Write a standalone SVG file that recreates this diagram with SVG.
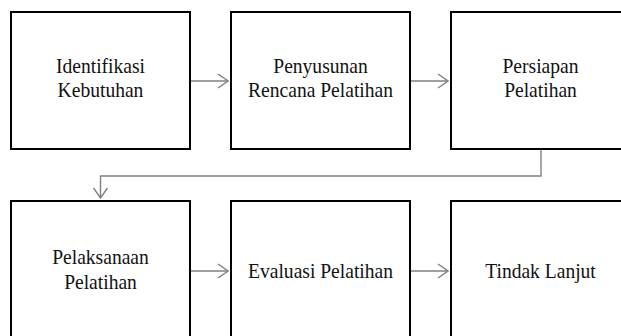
<svg xmlns="http://www.w3.org/2000/svg" width="621" height="336" viewBox="0 0 621 336">
<defs>
<style>
.box{fill:#fff;stroke:#000;stroke-width:2}
.lbl{font-family:"Liberation Serif","Times New Roman",serif;font-size:19px;fill:#111;text-anchor:middle}
.con{fill:none;stroke:#808080;stroke-width:1.4}
</style>
<marker id="arr" viewBox="0 0 12 16" refX="11" refY="8" markerWidth="12" markerHeight="16" markerUnits="userSpaceOnUse" orient="auto">
<path d="M1,1 L11,8 L1,15" fill="none" stroke="#808080" stroke-width="1.4"/>
</marker>
</defs>
<rect width="621" height="336" fill="#fff"/>
<g id="connectors">
<line class="con" x1="191" y1="81" x2="228" y2="81" marker-end="url(#arr)"/>
<line class="con" x1="411" y1="81" x2="448" y2="81" marker-end="url(#arr)"/>
<polyline class="con" points="541,150 541,176 100.5,176 100.5,198" marker-end="url(#arr)"/>
<line class="con" x1="191" y1="271" x2="228" y2="271" marker-end="url(#arr)"/>
<line class="con" x1="411" y1="271" x2="448" y2="271" marker-end="url(#arr)"/>
</g>
<g id="n1">
<rect class="box" x="11" y="12" width="179" height="137"/>
<text class="lbl" transform="translate(100.5 72.5) scale(1.03 1.09)">Identifikasi</text>
<text class="lbl" transform="translate(100.5 96.7) scale(1.03 1.09)">Kebutuhan</text>
</g>
<g id="n2">
<rect class="box" x="231" y="12" width="179" height="137"/>
<text class="lbl" transform="translate(320.5 72.5) scale(1.03 1.09)">Penyusunan</text>
<text class="lbl" transform="translate(320.5 96.7) scale(1.03 1.09)">Rencana Pelatihan</text>
</g>
<g id="n3">
<rect class="box" x="451" y="12" width="180" height="137"/>
<text class="lbl" transform="translate(540.5 72.5) scale(1.03 1.09)">Persiapan</text>
<text class="lbl" transform="translate(540.5 96.7) scale(1.03 1.09)">Pelatihan</text>
</g>
<g id="n4">
<rect class="box" x="11" y="201" width="179" height="137"/>
<text class="lbl" transform="translate(100.5 264.3) scale(1.03 1.09)">Pelaksanaan</text>
<text class="lbl" transform="translate(100.5 288.5) scale(1.03 1.09)">Pelatihan</text>
</g>
<g id="n5">
<rect class="box" x="231" y="201" width="179" height="137"/>
<text class="lbl" transform="translate(320.5 277.7) scale(1.03 1.09)">Evaluasi Pelatihan</text>
</g>
<g id="n6">
<rect class="box" x="451" y="201" width="180" height="137"/>
<text class="lbl" transform="translate(540.5 277.7) scale(1.03 1.09)">Tindak Lanjut</text>
</g>
</svg>
